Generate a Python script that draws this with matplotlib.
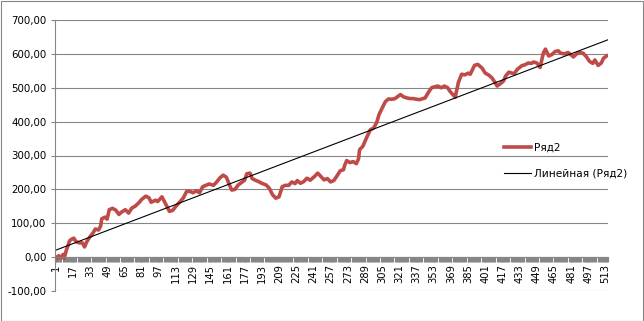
import numpy as np
import matplotlib
matplotlib.use('Agg')
import matplotlib.pyplot as plt
from matplotlib.patches import Rectangle

# category number -> value of "Ряд2"
idx = [1, 2, 4, 6, 8, 9, 11, 13, 14, 16, 18, 20, 23, 26, 28, 30, 33, 36, 38, 41,
       43, 44, 47, 49, 51, 54, 57, 60, 62, 66, 69, 72, 75, 79, 81, 85, 88, 90, 94, 96,
       100, 103, 107, 110, 113, 117, 120, 123, 126, 129, 132, 135, 138, 141, 144, 148, 151, 154, 157, 160,
       163, 165, 168, 171, 174, 177, 179, 182, 184, 187, 190, 193, 197, 200, 203, 206, 209, 212, 215, 218,
       221, 224, 226, 229, 232, 235, 238, 242, 245, 248, 251, 254, 257, 260, 263, 266, 269, 270, 272, 275,
       278, 281, 283, 284, 287, 291, 294, 297, 300, 302, 305, 308, 311, 314, 317, 322, 325, 328, 331, 334,
       337, 340, 345, 348, 351, 354, 357, 360, 363, 366, 368, 371, 373, 376, 379, 382, 385, 387, 391, 394,
       398, 401, 404, 407, 410, 412, 415, 418, 420, 423, 426, 428, 431, 435, 438, 441, 444, 446, 449, 452,
       455, 457, 460, 463, 466, 469, 471, 475, 478, 481, 483, 486, 489, 492, 495, 498, 501, 503, 506, 509,
       511, 514]
vals = [0, -5, 4, -2, 8, -4, 20, 38, 48, 53, 56, 46, 42, 42, 30, 45, 60, 72, 83, 80,
        92, 113, 118, 112, 140, 144, 139, 126, 132, 140, 130, 145, 150, 162, 170, 180, 175, 162, 168, 164,
        178, 160, 135, 138, 150, 164, 175, 194, 194, 190, 196, 190, 208, 212, 216, 212, 222, 234, 242, 236,
        212, 198, 200, 213, 220, 227, 246, 248, 232, 227, 223, 218, 213, 203, 184, 174, 178, 208, 212, 212,
        222, 217, 226, 218, 223, 233, 227, 238, 248, 238, 228, 232, 222, 226, 240, 255, 258, 270, 285, 279,
        282, 276, 290, 317, 327, 356, 376, 381, 398, 420, 440, 459, 467, 466, 468, 480, 473, 470, 468, 468,
        466, 465, 470, 486, 500, 503, 505, 500, 505, 500, 490, 479, 472, 516, 540, 538, 543, 540, 566, 569,
        558, 543, 538, 530, 516, 505, 512, 520, 535, 546, 543, 542, 555, 565, 568, 573, 572, 576, 573, 560,
        602, 614, 594, 598, 607, 609, 602, 600, 604, 597, 591, 600, 604, 602, 592, 578, 572, 582, 566, 573,
        587, 594]

n_cat = 515
x_labels = list(range(1, 514, 16))
y_ticks = list(range(-100, 701, 100))

grey = '#868686'
fs = 7.4

fig = plt.figure(figsize=(6.44, 3.21), dpi=100)
ax = fig.add_axes([55 / 644, 30 / 321, 553.3 / 644, 271 / 321])

line, = ax.plot(idx, vals, color='#BE4B48', lw=2.6, solid_joinstyle='round', label='Ряд2')

# linear trendline (least squares, like Excel's)
k, b = np.polyfit(idx, vals, 1)
xs = np.array([0.5, n_cat + 0.5])
trend, = ax.plot(xs, k * xs + b, color='black', lw=0.8, label='Линейная (Ряд2)')

ax.set_xlim(0.5, n_cat + 0.5)
ax.set_ylim(-100, 700)

ax.set_xticks(x_labels)
ax.set_xticklabels([str(v) for v in x_labels])
ax.set_xticks(np.arange(0.5, n_cat + 1, 1), minor=True)
ax.tick_params(axis='x', which='both', length=3.6, width=0.8, color=grey, direction='out')
ax.tick_params(axis='x', which='major', labelsize=7.2, labelrotation=90, pad=1.5)

ax.set_yticks(y_ticks)
ax.set_yticklabels([('%.2f' % v).replace('.', ',') for v in y_ticks])
ax.tick_params(axis='y', length=3, width=0.8, color=grey, pad=3, labelsize=fs)
ax.yaxis.grid(True, color=grey, lw=0.8)
ax.set_axisbelow(True)

ax.spines['bottom'].set_position(('data', 0))
ax.spines['bottom'].set_color(grey)
ax.spines['left'].set_color(grey)
ax.spines['top'].set_visible(False)
ax.spines['right'].set_visible(False)

ax.legend(handles=[line, trend], loc='upper left', bbox_to_anchor=(504 / 644, 1 - 143 / 321),
          bbox_transform=fig.transFigure, frameon=False, fontsize=7.6, handlelength=2.55,
          handletextpad=0.25, labelspacing=1.45, borderpad=0, borderaxespad=0)

fig.patches.append(Rectangle((0.5 / 644, 0.5 / 321), 642 / 644, 320 / 321, transform=fig.transFigure,
                             fill=False, edgecolor=grey, lw=0.8))

fig.savefig('out.png', dpi=100)
